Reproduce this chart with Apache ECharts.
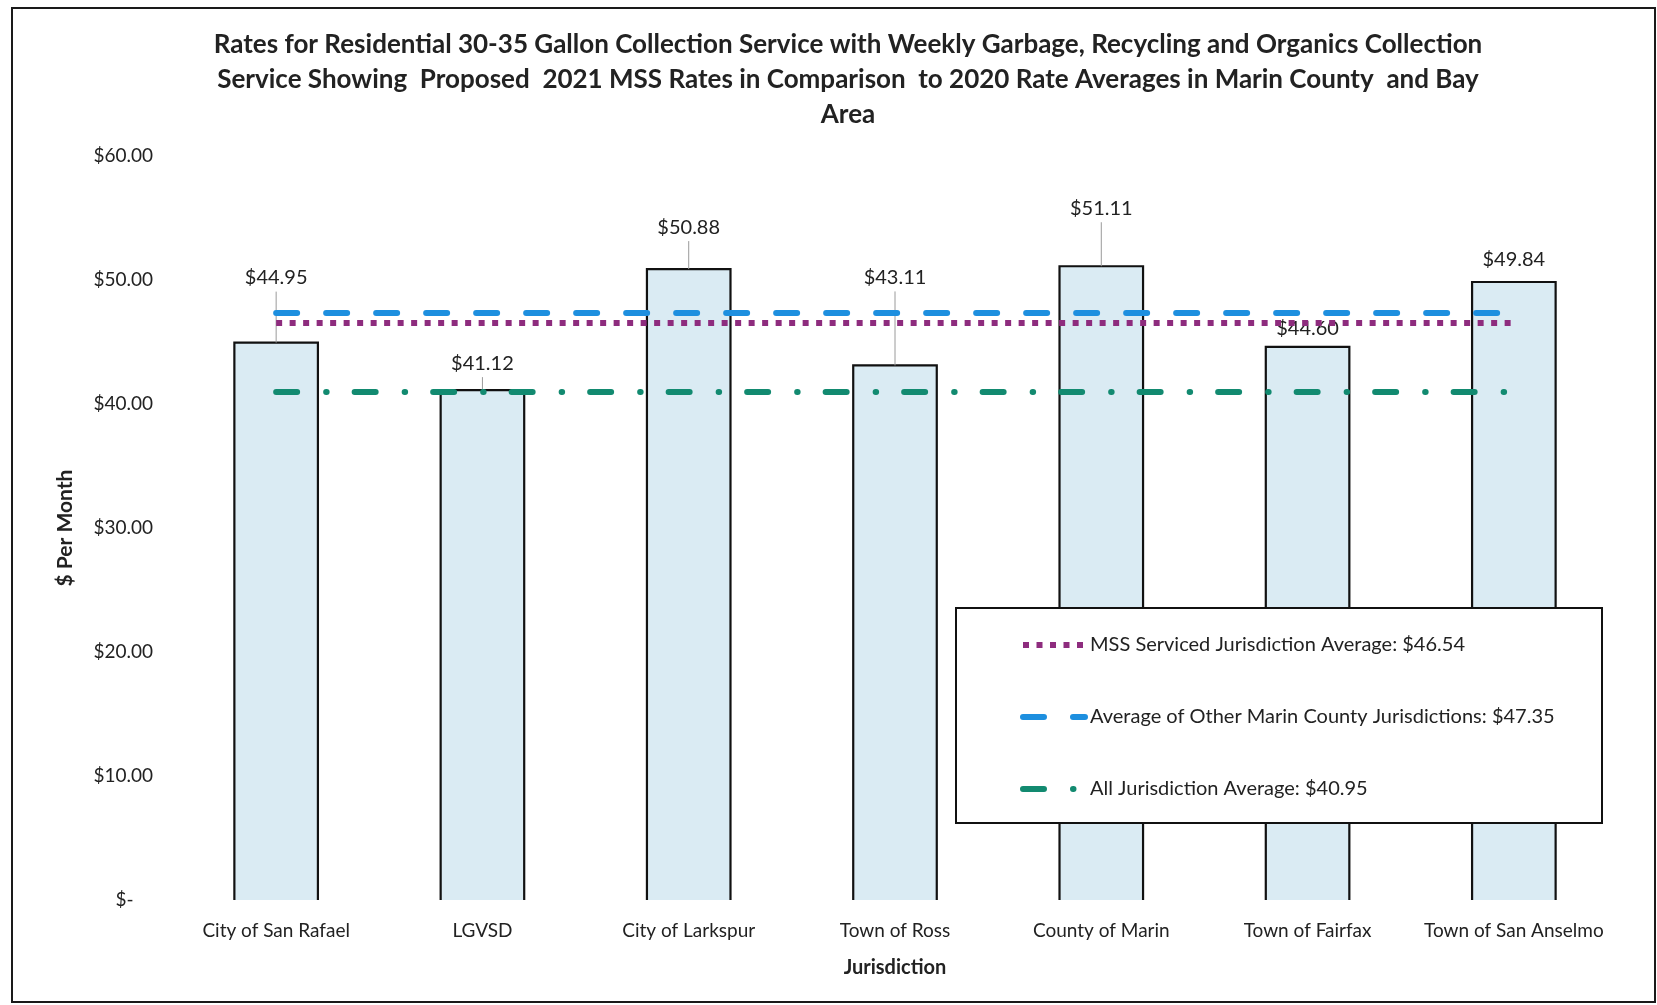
<!DOCTYPE html>
<html>
<head>
<meta charset="utf-8">
<script src="https://cdn.jsdelivr.net/npm/echarts@6/dist/echarts.min.js"></script>
<style>
  html, body { margin: 0; padding: 0; background: #fff; }
  #chart { width: 1657px; height: 1005px; }
</style>
</head>
<body>
<div id="chart"></div>
<script>
// Jurisdictions and their monthly rates for 30-35 gallon service
const categories = [
  'City of San Rafael', 'LGVSD', 'City of Larkspur', 'Town of Ross',
  'County of Marin', 'Town of Fairfax', 'Town of San Anselmo'
];
const monthlyRates = [44.95, 41.12, 50.88, 43.11, 51.11, 44.60, 49.84];

// Reference averages drawn as horizontal lines
const mssAverage = 46.54;
const otherMarinAverage = 47.35;
const allJurisdictionAverage = 40.95;

// Value axis ticks
const yMin = 0, yMax = 60, yStep = 10;

// How far (px) each value label sits above its bar top
const labelLift = [65, 27, 42, 88, 58, 18, 22];

const FONT = 'Lato, "Noto Sans", sans-serif';
const INK = '#222';

const chart = echarts.init(document.getElementById('chart'));

function fmtMoney(v) {
  return '$' + v.toFixed(2);
}

function avgLine(name, value, color, type, cap) {
  return {
    name: name,
    type: 'line',
    symbol: 'none',
    data: [],
    lineStyle: { color: color, width: 6, type: type, cap: cap },
    itemStyle: { color: color },
    z: 5,
    markLine: {
      silent: true,
      symbol: 'none',
      label: { show: false },
      lineStyle: { color: color, width: 6, type: type, cap: cap },
      emphasis: { disabled: true },
      data: [[
        { coord: [categories[0], value] },
        { coord: [categories[categories.length - 1], value] }
      ]]
    }
  };
}

const option = {
  animation: false,
  backgroundColor: '#fff',
  title: {
    text: 'Rates for Residential 30-35 Gallon Collection Service with Weekly Garbage, Recycling and Organics Collection\n' +
          'Service Showing  Proposed  2021 MSS Rates in Comparison  to 2020 Rate Averages in Marin County  and Bay\n' +
          'Area',
    left: 843,
    top: 22,
    textAlign: 'center',
    textStyle: {
      fontFamily: FONT,
      fontSize: 26,
      fontWeight: 'bold',
      color: INK,
      lineHeight: 35
    }
  },
  grid: { left: 173, right: 40, top: 156, bottom: 105 },
  xAxis: {
    type: 'category',
    data: categories,
    name: 'Jurisdiction',
    nameLocation: 'middle',
    nameGap: 58,
    nameTextStyle: { fontFamily: FONT, fontSize: 20, fontWeight: 'bold', color: INK },
    axisLine: { show: false },
    axisTick: { show: false },
    axisLabel: { fontFamily: FONT, fontSize: 19, color: INK, margin: 21, interval: 0 }
  },
  yAxis: {
    type: 'value',
    min: yMin,
    max: yMax,
    interval: yStep,
    name: '$ Per Month',
    nameLocation: 'middle',
    nameGap: 97,
    nameTextStyle: { fontFamily: FONT, fontSize: 21, fontWeight: 'bold', color: INK },
    axisLine: { show: false },
    axisTick: { show: false },
    splitLine: { show: false },
    axisLabel: {
      fontFamily: FONT, fontSize: 19, color: INK, margin: 20,
      formatter: v => (v === 0 ? '$-    ' : fmtMoney(v))
    }
  },
  legend: {
    orient: 'vertical',
    left: 1020,
    top: 633,
    padding: 0,
    itemWidth: 62,
    itemHeight: 14,
    itemGap: 48,
    selectedMode: false,
    lineStyle: { width: 6 },
    itemStyle: { opacity: 0, borderWidth: 0 },
    textStyle: { fontFamily: FONT, fontSize: 20, color: INK, lineHeight: 24 },
    data: [
      'MSS Serviced Jurisdiction Average: ' + fmtMoney(mssAverage),
      'Average of Other Marin County Jurisdictions: ' + fmtMoney(otherMarinAverage),
      'All Jurisdiction Average: ' + fmtMoney(allJurisdictionAverage)
    ],
    z: 10
  },
  graphic: [
    {
      type: 'rect',
      z: 0,
      shape: { x: 12, y: 8, width: 1643, height: 994 },
      style: { fill: 'none', stroke: '#1a1a1a', lineWidth: 2 }
    },
    {
      type: 'rect',
      z: 8,
      shape: { x: 956, y: 608, width: 646, height: 215 },
      style: { fill: '#fff', stroke: '#111', lineWidth: 2 }
    }
  ],
  series: [
    {
      name: 'Monthly Rate',
      type: 'custom',
      z: 2,
      data: monthlyRates.map((v, i) => [i, v]),
      encode: { x: 0, y: 1 },
      renderItem: function (params, api) {
        const i = params.dataIndex;
        const top = api.coord([api.value(0), api.value(1)]);
        const base = api.coord([api.value(0), 0]);
        const w = api.size([1, 0])[0] * 0.405;
        const x0 = top[0] - w / 2;
        const x1 = top[0] + w / 2;
        const ly = top[1] - labelLift[i];
        const children = [
          {
            type: 'rect',
            shape: { x: x0, y: top[1], width: w, height: base[1] - top[1] },
            style: { fill: '#daebf3' }
          },
          {
            type: 'polyline',
            shape: { points: [[x0, base[1]], [x0, top[1]], [x1, top[1]], [x1, base[1]]] },
            style: { fill: 'none', stroke: '#111', lineWidth: 2.2 }
          }
        ];
        if (labelLift[i] > 24) {
          children.push({
            type: 'line',
            shape: { x1: top[0], y1: ly + 14, x2: top[0], y2: top[1] },
            style: { stroke: '#9a9a9a', lineWidth: 1 }
          });
        }
        children.push({
          type: 'text',
          style: {
            x: top[0], y: ly,
            text: fmtMoney(api.value(1)),
            font: '20px ' + FONT,
            fill: INK,
            align: 'center',
            verticalAlign: 'middle'
          }
        });
        return { type: 'group', children: children };
      }
    },
    avgLine('MSS Serviced Jurisdiction Average: ' + fmtMoney(mssAverage),
      mssAverage, '#8e2c7e', [6, 7.5], 'butt'),
    avgLine('Average of Other Marin County Jurisdictions: ' + fmtMoney(otherMarinAverage),
      otherMarinAverage, '#1d8fdf', [21, 29], 'round'),
    avgLine('All Jurisdiction Average: ' + fmtMoney(allJurisdictionAverage),
      allJurisdictionAverage, '#128a70', [21, 29, 0.5, 28], 'round')
  ]
};

chart.setOption(option);
</script>
</body>
</html>
